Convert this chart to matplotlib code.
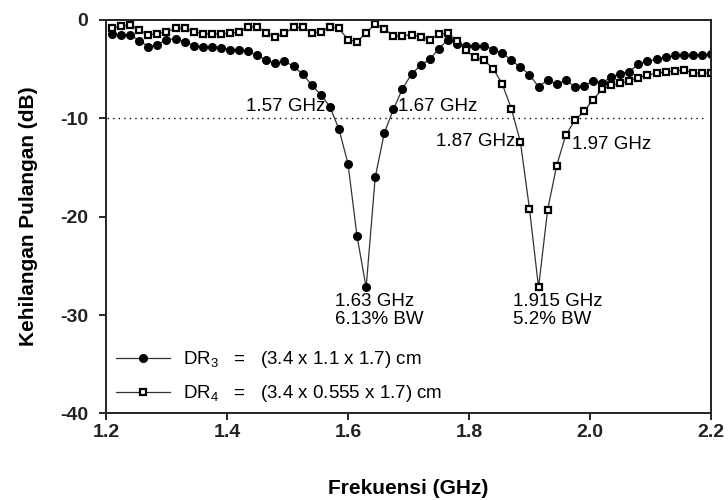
import matplotlib
matplotlib.use('Agg')
import matplotlib.pyplot as plt

plt.rcParams['font.family'] = ['Liberation Sans', 'DejaVu Sans']
plt.rcParams['mathtext.fontset'] = 'custom'
plt.rcParams['mathtext.rm'] = 'Liberation Sans'
plt.rcParams['mathtext.it'] = 'Liberation Sans'

# frekuensi (GHz) titik ukur
freq = [1.210, 1.225, 1.240, 1.255, 1.270, 1.285, 1.300, 1.315, 1.330, 1.345,
        1.360, 1.375, 1.390, 1.405, 1.420, 1.435, 1.450, 1.465, 1.480, 1.495,
        1.510, 1.525, 1.540, 1.555, 1.570, 1.585, 1.600, 1.615, 1.630, 1.645,
        1.660, 1.675, 1.690, 1.705, 1.720, 1.735, 1.750, 1.765, 1.780, 1.795,
        1.810, 1.825, 1.840, 1.855, 1.870, 1.885, 1.900, 1.915, 1.930, 1.945,
        1.960, 1.975, 1.990, 2.005, 2.020, 2.035, 2.050, 2.065, 2.080, 2.095,
        2.110, 2.125, 2.140, 2.155, 2.170, 2.185, 2.200]

# DR3 = (3.4 x 1.1 x 1.7) cm
dr3 = [-1.4, -1.5, -1.5, -2.1, -2.7, -2.5, -2.0, -1.9, -2.2, -2.6,
       -2.7, -2.7, -2.8, -3.0, -3.1, -3.2, -3.6, -4.1, -4.4, -4.2,
       -4.7, -5.5, -6.6, -7.6, -8.8, -11.1, -14.6, -22.0, -27.2, -16.0,
       -11.5, -9.1, -7.0, -5.5, -4.6, -4.0, -2.95, -2.0, -2.4, -2.6,
       -2.6, -2.6, -3.0, -3.35, -4.1, -4.8, -5.55, -6.8, -6.1, -6.55,
       -6.1, -6.8, -6.7, -6.2, -6.4, -5.8, -5.5, -5.25, -4.5, -4.2,
       -4.0, -3.8, -3.6, -3.55, -3.55, -3.55, -3.5]

# DR4 = (3.4 x 0.555 x 1.7) cm
dr4 = [-0.85, -0.6, -0.5, -1.0, -1.5, -1.4, -1.2, -0.85, -0.85, -1.2,
       -1.4, -1.4, -1.4, -1.35, -1.2, -0.7, -0.7, -1.3, -1.75, -1.35,
       -0.75, -0.75, -1.3, -1.2, -0.7, -0.85, -2.0, -2.2, -1.3, -0.4,
       -0.9, -1.6, -1.6, -1.5, -1.7, -2.0, -1.45, -1.35, -2.15, -3.1,
       -3.8, -4.1, -4.95, -6.5, -9.0, -12.4, -19.2, -27.2, -19.3, -14.8,
       -11.7, -10.2, -9.3, -8.1, -7.05, -6.65, -6.45, -6.2, -5.85, -5.6,
       -5.4, -5.3, -5.2, -5.05, -5.4, -5.4, -5.4]

xticks = [1.2, 1.4, 1.6, 1.8, 2.0, 2.2]
yticks = [0, -10, -20, -30, -40]

fig = plt.figure(figsize=(7.28, 5.0), dpi=100)
ax = fig.add_axes([0.1456, 0.1733, 0.831, 0.7867])

# garis -10 dB
ax.axhline(-10, xmin=0.002, xmax=0.99, color='black', linestyle=(0, (1, 3)), linewidth=1.0)

ax.plot(freq, dr3, color='#333333', linewidth=0.9, marker='o', markersize=5.5,
        markerfacecolor='black', markeredgecolor='black',
        label='DR$_3$   =   (3.4 x 1.1 x 1.7) cm')
ax.plot(freq, dr4, color='#333333', linewidth=0.9, marker='s', markersize=5,
        markerfacecolor='white', markeredgecolor='black', markeredgewidth=1.6,
        label='DR$_4$   =   (3.4 x 0.555 x 1.7) cm')

ax.set_xlim(1.2, 2.2)
ax.set_ylim(-40, 0)
ax.set_xticks(xticks)
ax.set_xticklabels(['%.1f' % v for v in xticks])
ax.set_yticks(yticks)
ax.set_yticklabels(['%d' % v for v in yticks])
ax.tick_params(direction='out', length=5, width=1.2, labelsize=14)
ax.tick_params(axis='x', pad=3)
ax.tick_params(axis='y', pad=8)
for lab in ax.get_xticklabels() + ax.get_yticklabels():
    lab.set_fontweight('bold')
    lab.set_color('#222222')
for s in ax.spines.values():
    s.set_linewidth(1.4)
    s.set_color('#222222')

ax.set_xlabel('Frekuensi (GHz)', fontsize=15, fontweight='bold', labelpad=27)
ax.set_ylabel('Kehilangan Pulangan (dB)', fontsize=15, fontweight='bold', labelpad=16)

# anotasi frekuensi
tk = dict(fontsize=13.5, color='black')
ax.text(1.562, -8.8, '1.57 GHz', ha='right', va='center', **tk)
ax.text(1.683, -8.8, '1.67 GHz', ha='left', va='center', **tk)
ax.text(1.877, -12.4, '1.87 GHz', ha='right', va='center', **tk)
ax.text(1.971, -12.7, '1.97 GHz', ha='left', va='center', **tk)
ax.text(1.5785, -27.8, '1.63 GHz\n6.13% BW', ha='left', va='top', linespacing=1.05, **tk)
ax.text(1.873, -27.8, '1.915 GHz\n5.2% BW', ha='left', va='top', linespacing=1.05, **tk)

ax.legend(loc='lower left', bbox_to_anchor=(0.004, 0.004), frameon=False, fontsize=13.5,
          handlelength=2.9, handletextpad=0.7, labelspacing=0.7, borderaxespad=0.0)

fig.savefig('out.png', dpi=100)
